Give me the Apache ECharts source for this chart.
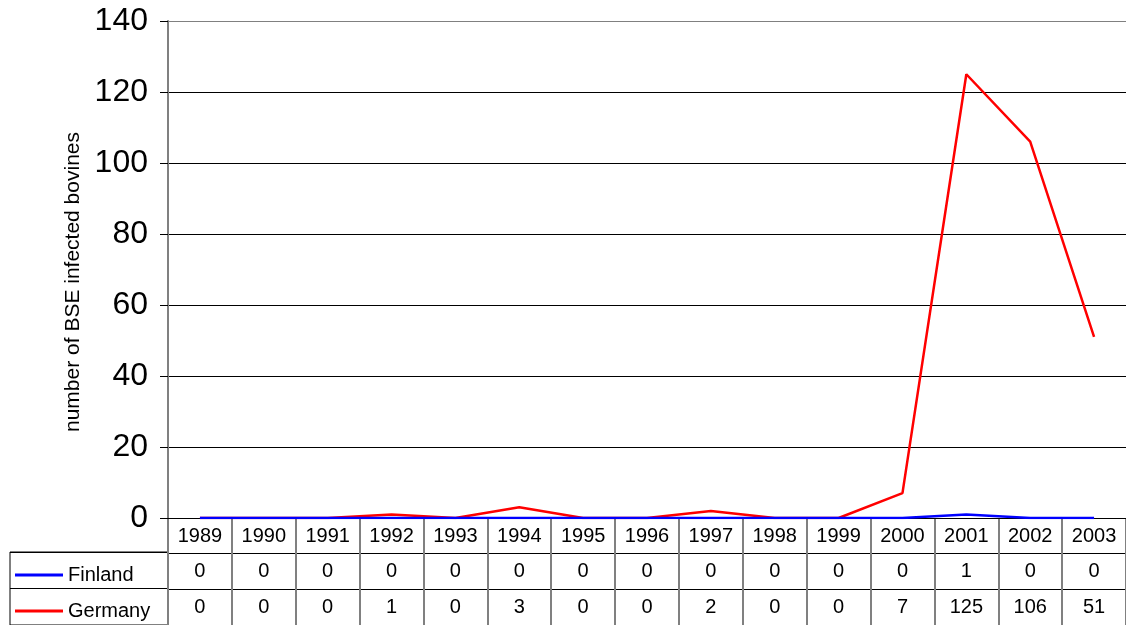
<!DOCTYPE html>
<html><head><meta charset="utf-8">
<script src="https://cdn.jsdelivr.net/npm/echarts@6/dist/echarts.min.js"></script>
<style>html,body{margin:0;padding:0;background:#fff}#c{width:1126px;height:625px}</style>
</head><body><div id="c"></div>
<script>
const years = ['1989','1990','1991','1992','1993','1994','1995','1996','1997','1998','1999','2000','2001','2002','2003'];
const finland = [0,0,0,0,0,0,0,0,0,0,0,0,1,0,0];
const germany = [0,0,0,1,0,3,0,0,2,0,0,7,125,106,51];
const yTicks = {min:0, max:140, interval:20};
const rows = ['', 'Finland', 'Germany'];

const FONT = 'Arial, "Liberation Sans", sans-serif';
const tableData = [];
years.forEach((y,i)=>{
  tableData.push([i, 1, finland[i]]);
  tableData.push([i, 2, germany[i]]);
});

const legendBase = {orient:'horizontal', left:15, padding:0, itemWidth:48, itemHeight:3, itemGap:6,
  textStyle:{fontSize:20, color:'#000', fontFamily:FONT}, selectedMode:false};

const chart = echarts.init(document.getElementById('c'), null, {renderer:'canvas'});
chart.setOption({
  animation:false,
  textStyle:{fontFamily:FONT},
  legend:[
    Object.assign({}, legendBase, {top:565, data:[{name:'Finland', icon:'rect'}]}),
    Object.assign({}, legendBase, {top:601, data:[{name:'Germany', icon:'rect'}]})
  ],
  grid:[
    {left:168, right:-1, top:21, bottom:107, containLabel:false},
    {left:168, right:-1, top:518, bottom:0, containLabel:false},
    {left:10, width:158, top:552, bottom:-1, show:true, borderColor:'#000', borderWidth:1, containLabel:false}
  ],
  xAxis:[
    {type:'category', gridIndex:0, data:years, boundaryGap:true,
     axisLine:{show:true, lineStyle:{color:'#000', width:1}}, axisTick:{show:false},
     axisLabel:{fontSize:20, color:'#000', margin:8, fontFamily:FONT, interval:0}},
    {type:'category', gridIndex:1, data:years, boundaryGap:true,
     axisLine:{show:false}, axisTick:{show:false}, axisLabel:{show:false},
     splitLine:{show:true, interval:0, lineStyle:{color:'#808080', width:2}}},
    {type:'value', gridIndex:2, min:0, max:1, show:false}
  ],
  yAxis:[
    {type:'value', gridIndex:0, min:yTicks.min, max:yTicks.max, interval:yTicks.interval,
     name:'number of BSE infected bovines', nameLocation:'middle', nameRotate:90, nameGap:74,
     nameTextStyle:{fontSize:21, color:'#000', fontFamily:FONT, padding:[0,25,0,0]},
     axisLine:{show:true, lineStyle:{color:'#808080', width:2}},
     axisTick:{show:true, length:8, lineStyle:{color:'#000'}},
     axisLabel:{fontSize:32, color:'#000', margin:20, fontFamily:FONT},
     splitLine:{show:true, lineStyle:{color:['#000','#000','#000','#000','#000','#000','#000','#808080'], width:1}}},
    {type:'category', gridIndex:1, data:rows, inverse:true,
     axisLine:{show:false}, axisTick:{show:false}, axisLabel:{show:false},
     splitLine:{show:true, interval:0, lineStyle:{color:'#000', width:1}}},
    {type:'category', gridIndex:2, data:['Finland','Germany'], inverse:true,
     axisLine:{show:false}, axisTick:{show:false}, axisLabel:{show:false},
     splitLine:{show:true, interval:0, lineStyle:{color:'#000', width:1}}}
  ],
  series:[
    {name:'Germany', type:'line', xAxisIndex:0, yAxisIndex:0, data:germany, symbol:'none',
     lineStyle:{color:'#ff0000', width:2.5}, itemStyle:{color:'#ff0000'}, z:3},
    {name:'Finland', type:'line', xAxisIndex:0, yAxisIndex:0, data:finland, symbol:'none',
     lineStyle:{color:'#0000ff', width:2.5}, itemStyle:{color:'#0000ff'}, z:4},
    {type:'scatter', xAxisIndex:1, yAxisIndex:1, data:tableData, symbolSize:1,
     itemStyle:{color:'rgba(0,0,0,0)', opacity:1}, silent:true,
     label:{show:true, position:'inside', fontSize:20, color:'#000', fontFamily:FONT,
            formatter:p=>String(p.value[2])}}
  ]
});
</script></body></html>
